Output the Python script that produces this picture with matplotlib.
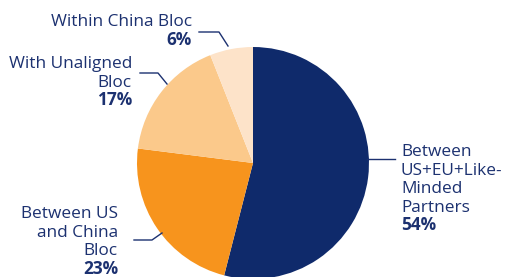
import matplotlib
matplotlib.use("Agg")
import matplotlib.pyplot as plt

# data
labels = ["Between\nUS+EU+Like-\nMinded\nPartners", "Between US\nand China\nBloc",
          "With Unaligned\nBloc", "Within China Bloc"]
shares = [54, 23, 17, 6]
colors = ["#0f2a6b", "#f7941d", "#fbc98b", "#fde3c9"]
text_color = "#1c3170"

plt.rcParams["font.family"] = ["Open Sans", "DejaVu Sans"]

fig = plt.figure(figsize=(5.06, 2.77), dpi=100)
ax = fig.add_axes([0, 0, 1, 1])

# pixel coordinates, y downwards
ax.pie(shares, colors=colors, startangle=-90, counterclock=True,
       center=(253, 163), radius=116, wedgeprops=dict(linewidth=0))
ax.set_xlim(0, 506)
ax.set_ylim(277, 0)
ax.set_aspect("equal")
ax.axis("off")

# label positions: x, baseline of first line, alignment
pos = [(401, 156, "left"), (118, 218, "right"), (132, 68, "right"), (192, 26, "right")]
step = 18.6
for lab, val, (x, y, ha) in zip(labels, shares, pos):
    lines = lab.split("\n")
    for i, line in enumerate(lines):
        ax.text(x, y + i * step, line, ha=ha, va="baseline", fontsize=12.4, color=text_color)
    ax.text(x, y + len(lines) * step, f"{val}%", ha=ha, va="baseline", fontsize=12.4,
            fontweight="bold", color=text_color)

# leader lines
leaders = [([367, 395], [159, 159]),
           ([134, 152, 162], [240, 240, 233]),
           ([140, 158, 167], [73, 73, 84]),
           ([199, 219, 228], [32, 32, 46])]
for xs, ys in leaders:
    ax.plot(xs, ys, color=text_color, lw=1)

fig.savefig("out.png", dpi=100)
